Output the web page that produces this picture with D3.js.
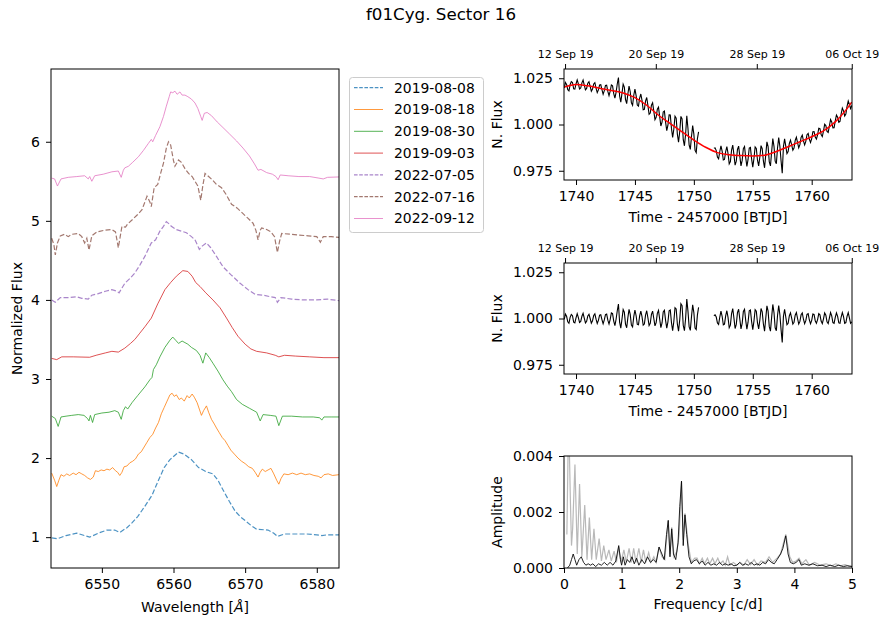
<!DOCTYPE html>
<html>
<head>
<meta charset="utf-8">
<script src="https://cdn.jsdelivr.net/npm/d3@7"></script>
<style>
body { margin: 0; background: #fff; }
svg text { font-family: "DejaVu Sans", sans-serif; fill: #000; }
</style>
</head>
<body>
<script>
// ---------- spectra (H-alpha profiles, offset per night) ----------
var dates = ["2019-08-08", "2019-08-18", "2019-08-30", "2019-09-03", "2022-07-05", "2022-07-16", "2022-09-12"];
var colors = ["#1f77b4", "#ff7f0e", "#2ca02c", "#d62728", "#9467bd", "#8c564b", "#e377c2"];
var dashed = [true, false, false, false, true, true, false];

var spec0808 = [[6543.0,0.99],[6543.8,0.98],[6545,1.02],[6546.5,1.05],[6548.3,1.0],[6549.5,1.05],[6550.7,1.09],[6551.8,1.09],[6552.5,1.06],[6553.5,1.12],[6554.2,1.18],[6555,1.26],[6556.0,1.39],[6557,1.53],[6557.9,1.72],[6558.7,1.88],[6559.5,1.98],[6560.7,2.075],[6561.5,2.05],[6562.5,1.98],[6563.5,1.88],[6564.5,1.83],[6565.5,1.80],[6566.2,1.72],[6566.9,1.60],[6567.8,1.45],[6568.6,1.33],[6569.3,1.26],[6570.0,1.21],[6570.8,1.15],[6571.6,1.10],[6573.2,1.09],[6574.0,1.05],[6574.5,1.01],[6575.5,1.04],[6577,1.04],[6578.6,1.04],[6580,1.03],[6580.7,1.02],[6581.5,1.03],[6583.1,1.03]];

var spec0818 = [[6543.0,1.81],[6543.4,1.72],[6543.7,1.64],[6544.0,1.72],[6544.3,1.79],[6544.7,1.77],[6545.1,1.80],[6545.5,1.78],[6546.0,1.81],[6546.4,1.79],[6546.8,1.82],[6547.2,1.80],[6547.6,1.78],[6548.0,1.75],[6548.4,1.73],[6548.8,1.76],[6549.1,1.84],[6549.5,1.83],[6549.9,1.85],[6550.3,1.84],[6550.7,1.86],[6551.1,1.85],[6551.5,1.88],[6551.9,1.84],[6552.2,1.82],[6552.5,1.78],[6552.8,1.82],[6553.1,1.89],[6553.5,1.90],[6553.9,1.94],[6554.3,1.96],[6554.7,1.99],[6555.1,2.05],[6555.5,2.08],[6555.9,2.14],[6556.3,2.20],[6556.7,2.26],[6557.1,2.30],[6557.5,2.38],[6557.9,2.45],[6558.3,2.56],[6558.7,2.64],[6559.1,2.72],[6559.5,2.80],[6559.8,2.82],[6560.1,2.78],[6560.4,2.80],[6560.8,2.74],[6561.1,2.76],[6561.5,2.72],[6561.9,2.79],[6562.2,2.76],[6562.6,2.81],[6562.9,2.77],[6563.3,2.70],[6563.6,2.62],[6563.9,2.54],[6564.2,2.60],[6564.6,2.66],[6564.9,2.58],[6565.3,2.49],[6565.7,2.43],[6566.0,2.38],[6566.4,2.32],[6566.8,2.26],[6567.2,2.22],[6567.6,2.16],[6568.0,2.10],[6568.5,2.05],[6569.0,2.00],[6569.5,1.96],[6570.0,1.93],[6570.5,1.89],[6571.0,1.87],[6571.4,1.82],[6571.8,1.76],[6572.1,1.82],[6572.4,1.86],[6572.8,1.83],[6573.2,1.85],[6573.6,1.87],[6574.0,1.80],[6574.4,1.72],[6574.7,1.67],[6575.0,1.74],[6575.4,1.80],[6576.0,1.79],[6576.6,1.81],[6577.2,1.79],[6577.8,1.81],[6578.4,1.79],[6579.0,1.80],[6579.6,1.78],[6580.2,1.77],[6580.6,1.75],[6581.0,1.79],[6581.6,1.80],[6582.2,1.78],[6583.1,1.79]];

var spec0830 = [[6543.0,2.53],[6543.5,2.50],[6543.9,2.40],[6544.3,2.52],[6545,2.53],[6545.8,2.54],[6546.7,2.55],[6547.5,2.54],[6548.0,2.50],[6548.2,2.47],[6548.4,2.54],[6548.7,2.45],[6549.0,2.55],[6550.0,2.57],[6551.0,2.58],[6551.8,2.60],[6552.3,2.58],[6552.7,2.49],[6553.0,2.60],[6553.3,2.65],[6553.6,2.62],[6554.2,2.70],[6555.0,2.79],[6556.0,2.90],[6556.7,2.99],[6557.0,3.02],[6557.2,3.12],[6557.6,3.18],[6558.1,3.28],[6558.8,3.40],[6559.5,3.49],[6559.9,3.53],[6560.3,3.49],[6560.7,3.45],[6561.2,3.48],[6561.6,3.46],[6562.0,3.44],[6562.5,3.40],[6563.2,3.36],[6563.7,3.30],[6564.1,3.20],[6564.5,3.33],[6565.0,3.27],[6565.5,3.20],[6566.2,3.10],[6566.9,2.99],[6567.5,2.91],[6568.1,2.84],[6568.8,2.74],[6569.6,2.68],[6570.6,2.63],[6571.6,2.58],[6572.1,2.47],[6572.5,2.55],[6573.5,2.54],[6574.3,2.53],[6574.7,2.41],[6575.2,2.53],[6576.5,2.53],[6578,2.52],[6579.5,2.52],[6580.4,2.51],[6580.7,2.48],[6581.0,2.52],[6582,2.52],[6583.1,2.52]];

var spec0903 = [[6543.0,3.26],[6543.7,3.245],[6544.4,3.28],[6546,3.28],[6548.3,3.275],[6549.2,3.30],[6550.5,3.33],[6551.4,3.35],[6552.3,3.34],[6553.2,3.39],[6554,3.45],[6554.6,3.50],[6555.3,3.58],[6556.0,3.66],[6556.9,3.77],[6557.8,3.95],[6558.8,4.13],[6559.6,4.22],[6560.4,4.30],[6561.3,4.37],[6562.0,4.36],[6562.6,4.30],[6563.1,4.22],[6563.7,4.17],[6564.5,4.09],[6565.5,4.00],[6566.5,3.90],[6567.4,3.77],[6568.2,3.65],[6569.0,3.54],[6570.0,3.44],[6570.8,3.38],[6571.6,3.35],[6573,3.33],[6574.2,3.30],[6574.7,3.28],[6575.5,3.30],[6577,3.29],[6579,3.28],[6581,3.27],[6583.1,3.27]];

var spec0705 = [[6543.0,4.00],[6543.5,3.97],[6544.2,4.03],[6545.5,4.03],[6546.5,4.04],[6547.2,4.02],[6548.1,4.01],[6548.6,4.06],[6549.5,4.08],[6550.5,4.11],[6551.4,4.13],[6552.1,4.11],[6552.4,4.09],[6552.8,4.15],[6553.2,4.21],[6553.9,4.27],[6554.6,4.34],[6555.3,4.44],[6556.0,4.55],[6556.9,4.72],[6557.5,4.76],[6558.1,4.87],[6558.6,4.93],[6559.0,4.99],[6559.4,4.96],[6559.7,4.93],[6560.4,4.89],[6561.1,4.87],[6561.8,4.85],[6562.5,4.80],[6563.0,4.76],[6563.6,4.64],[6564.0,4.68],[6564.6,4.72],[6565.2,4.66],[6566.0,4.55],[6566.9,4.42],[6568.0,4.32],[6569.3,4.21],[6570.4,4.13],[6571.4,4.07],[6572.5,4.06],[6573.5,4.04],[6574.2,4.03],[6574.5,3.97],[6575.0,4.03],[6576.5,4.01],[6578,4.00],[6580,4.00],[6581.5,4.01],[6583.1,3.99]];

var spec0716 = [[6543.0,4.78],[6543.3,4.70],[6543.5,4.57],[6543.8,4.72],[6544.2,4.81],[6544.8,4.83],[6545.3,4.80],[6545.8,4.83],[6546.7,4.84],[6547.2,4.80],[6547.6,4.72],[6547.9,4.78],[6548.2,4.63],[6548.6,4.81],[6549.3,4.86],[6550.3,4.88],[6551.4,4.89],[6551.9,4.86],[6552.3,4.66],[6552.8,4.93],[6553.3,4.92],[6553.6,4.96],[6554.2,5.01],[6555.0,5.08],[6555.6,5.14],[6556.3,5.31],[6556.7,5.24],[6556.9,5.18],[6557.3,5.42],[6557.8,5.46],[6558.2,5.60],[6558.6,5.73],[6559.0,5.92],[6559.3,6.00],[6559.6,5.96],[6560.0,5.76],[6560.2,5.69],[6560.7,5.77],[6561.1,5.74],[6561.6,5.66],[6562.1,5.60],[6562.6,5.56],[6563.0,5.50],[6563.4,5.44],[6563.8,5.26],[6564.1,5.45],[6564.4,5.60],[6564.9,5.56],[6565.4,5.52],[6566.0,5.46],[6566.7,5.42],[6567.3,5.34],[6568.1,5.21],[6568.9,5.16],[6569.6,5.10],[6570.3,5.04],[6571.1,4.97],[6571.5,4.88],[6571.8,4.76],[6572.1,4.88],[6572.3,4.91],[6573.0,4.89],[6573.6,4.86],[6574.1,4.80],[6574.5,4.60],[6574.8,4.74],[6575.1,4.84],[6576.5,4.83],[6577.5,4.82],[6578.8,4.81],[6580.0,4.80],[6580.5,4.73],[6580.9,4.80],[6582,4.80],[6583.1,4.79]];

var spec0912 = [[6543.0,5.54],[6543.4,5.53],[6543.8,5.44],[6544.3,5.53],[6545.3,5.55],[6546.5,5.56],[6547.6,5.57],[6548.1,5.53],[6548.3,5.56],[6548.6,5.50],[6549.0,5.57],[6550.2,5.59],[6551.4,5.62],[6552.3,5.63],[6552.7,5.55],[6553.0,5.64],[6553.2,5.67],[6553.7,5.69],[6554.3,5.74],[6555.1,5.81],[6555.8,5.89],[6556.5,5.98],[6556.9,6.03],[6557.1,6.00],[6557.5,6.08],[6558.1,6.19],[6558.6,6.32],[6559.0,6.45],[6559.4,6.57],[6559.6,6.63],[6559.9,6.62],[6560.2,6.64],[6560.5,6.60],[6560.9,6.63],[6561.2,6.59],[6561.6,6.59],[6562.0,6.57],[6562.5,6.54],[6563.0,6.49],[6563.4,6.42],[6563.8,6.32],[6564.0,6.27],[6564.3,6.36],[6564.7,6.37],[6565.3,6.33],[6566.1,6.25],[6566.9,6.18],[6567.8,6.10],[6568.8,6.01],[6569.7,5.92],[6570.6,5.82],[6571.3,5.72],[6571.8,5.64],[6572.2,5.65],[6573.0,5.61],[6573.8,5.59],[6574.3,5.56],[6574.6,5.52],[6574.9,5.58],[6576,5.57],[6577.5,5.56],[6579,5.56],[6580.3,5.54],[6580.9,5.53],[6581.5,5.55],[6583.1,5.555]];

var spectra = [spec0808, spec0818, spec0830, spec0903, spec0705, spec0716, spec0912];

// ---------- TESS light curve, sector 16 (flux offsets in ppt, 0.1 d cadence) ----------
var segStart = [1739.0, 1751.7];
var cadence = 0.1;

var fluxSeg1 = [19.7,22.7,21.7,18.8,18.2,21.5,23.2,22.7,19.3,19.1,
21.9,24.1,22.0,19.2,19.7,22.5,24.0,21.3,18.7,19.5,
22.3,23.1,20.6,18.0,19.2,21.9,22.6,19.6,17.2,18.7,
21.4,21.5,18.8,16.3,18.3,21.1,21.3,17.9,15.6,18.0,
21.4,20.9,16.7,14.2,17.4,21.9,25.4,15.4,12.1,16.8,
21.8,20.2,13.5,11.3,16.5,20.8,17.7,11.7,10.4,15.8,
19.1,15.6,10.5,9.9,14.3,16.5,13.0,8.0,8.2,12.6,
14.6,10.3,5.5,6.2,10.4,11.7,7.2,2.6,3.9,8.3,
9.4,4.2,-0.8,1.3,6.8,7.3,1.3,-3.3,-0.4,5.2,
5.1,-2.1,-7.0,-2.5,4.5,3.4,-5.2,-9.5,-3.9,4.4,
3.0,-8.2,-11.5,-5.3,4.7,-2.2,-11.2,-13.5,-6.5,-0.6,
-5.2,-14.0,-15.2,-7.8,-4.0];

var fluxSeg2 = [-12.8,-12.6,-14.1,-17.6,-18.5,-14.6,-11.5,-14.4,-19.2,-18.9,
-14.6,-11.9,-15.6,-21.3,-20.0,-13.8,-11.1,-16.3,-22.0,-19.8,
-13.5,-11.7,-17.2,-22.4,-19.4,-13.0,-11.9,-17.9,-22.7,-18.9,
-12.7,-12.4,-18.6,-23.0,-18.4,-12.1,-12.9,-19.3,-22.4,-17.6,
-11.4,-13.1,-19.7,-23.4,-16.4,-9.4,-12.0,-20.2,-22.4,-14.8,
-7.6,-11.8,-19.8,-21.2,-12.7,-7.1,-11.8,-19.6,-26.3,-12.0,
-7.8,-11.7,-15.7,-14.6,-10.3,-8.5,-11.0,-13.9,-12.7,-8.6,
-6.9,-9.8,-12.6,-10.9,-7.0,-5.8,-8.9,-11.0,-9.1,-5.5,
-4.8,-7.9,-9.7,-7.6,-3.9,-3.8,-6.8,-7.9,-5.6,-2.0,
-2.3,-5.4,-6.5,-3.6,0.1,-0.6,-3.7,-4.3,-0.8,2.7,
1.4,-1.8,-1.7,2.0,5.1,4.0,1.2,1.7,5.8,8.9,
7.4,4.6,5.7,9.8,12.7,10.8,8.6,10.3];

var detSeg1 = [-0.5,2.4,1.2,-1.8,-2.6,0.6,2.2,1.5,-2.0,-2.4,
0.3,2.6,0.5,-2.2,-1.6,1.2,2.8,0.2,-2.4,-1.5,
1.4,2.3,0.0,-2.5,-1.2,1.6,2.5,-0.4,-2.7,-1.0,
1.8,2.0,-0.6,-2.9,-0.8,2.1,2.4,-0.9,-3.0,-0.5,
3.0,2.6,-1.4,-3.8,-0.4,4.2,7.8,-2.0,-5.2,-0.3,
4.8,3.4,-3.0,-5.0,0.5,5.0,2.2,-3.6,-4.6,1.0,
4.6,1.5,-3.2,-3.4,1.4,4.0,1.0,-3.6,-3.0,1.8,
4.2,0.4,-3.8,-2.6,2.2,4.0,0.0,-4.0,-2.2,2.8,
4.4,-0.4,-4.9,-2.4,3.6,4.5,-1.0,-5.2,-1.8,4.2,
4.6,-2.2,-6.6,-1.6,5.8,5.2,-3.0,-6.8,-0.8,8.0,
7.0,-3.8,-6.6,0.0,10.5,4.0,-4.6,-6.4,1.0,7.4,
3.2,-5.2,-6.0,1.8,6.0];

var detSeg2 = [1.5,2.0,0.8,-2.4,-3.2,0.8,4.0,1.2,-3.4,-3.0,
1.4,4.2,0.6,-5.0,-3.6,2.6,5.4,0.2,-5.4,-3.2,
3.2,5.0,-0.4,-5.6,-2.6,3.8,5.0,-1.0,-5.8,-2.0,
4.2,4.6,-1.6,-6.0,-1.4,4.8,4.0,-2.4,-5.6,-0.8,
5.4,3.6,-3.0,-6.8,0.0,6.8,4.0,-4.4,-6.8,0.6,
7.6,3.2,-5.0,-6.6,1.6,7.0,2.0,-6.0,-13.0,1.0,
5.0,0.8,-3.4,-2.6,1.4,3.0,0.2,-3.0,-2.0,1.8,
3.2,0.0,-3.0,-1.6,2.0,3.0,-0.4,-2.8,-1.2,2.2,
2.6,-0.8,-2.8,-1.0,2.4,2.2,-1.2,-2.6,-0.6,2.6,
2.0,-1.4,-2.8,-0.2,3.0,1.8,-1.8,-2.8,0.2,3.2,
1.4,-2.2,-2.6,0.6,3.0,1.2,-2.4,-2.6,0.8,3.2,
1.0,-2.6,-2.2,1.2,3.2,0.4,-2.6,-1.8];

// smooth trend (red) in ppt
var trendTime = [1739,1740,1741,1742,1743,1744,1745,1746,1747,1748,1749,1750,1751,1752,1753,1754,1755,1756,1757,1758,1759,1760,1761,1762,1763,1763.4];
var trendFlux = [20.2,21.6,20.9,19.6,18.4,17.0,14.5,10.4,5.0,0.5,-4.0,-8.4,-12.3,-15.2,-16.3,-16.8,-17.0,-16.6,-14.6,-12.0,-9.3,-6.6,-3.4,1.4,8.6,12.1];

var calTickTime = [1739.07, 1746.77, 1755.34, 1763.4];
var calTickLabel = ["12 Sep 19", "20 Sep 19", "28 Sep 19", "06 Oct 19"];

// ---------- amplitude spectra (amplitude in 1e-4) ----------
var pgOriginal = [[0.05,12],[0.08,55],[0.11,25],[0.13,8],[0.15,14],[0.19,37],[0.23,5],[0.27,30],[0.31,4],[0.36,22.5],[0.40,3],[0.44,18],[0.48,3],[0.52,14],[0.56,3],[0.61,10.5],[0.65,2.5],[0.69,8],[0.73,3],[0.78,6.5],[0.82,2.5],[0.87,6],[0.91,2],[0.95,7.5],[0.99,2],[1.04,6.5],[1.08,2],[1.13,7],[1.17,2],[1.21,7],[1.25,2],[1.30,7],[1.34,2],[1.38,6.5],[1.42,2],[1.47,5.5],[1.51,2],[1.56,4],[1.60,2],[1.65,7.5],[1.70,4],[1.75,3],[1.81,17],[1.84,5],[1.87,14.5],[1.91,4],[1.96,6],[2.00,12],[2.04,31],[2.07,10],[2.10,19.5],[2.16,8],[2.21,2],[2.27,3.5],[2.31,3.5],[2.35,1.5],[2.40,3.5],[2.44,1.5],[2.49,3.5],[2.53,1.5],[2.58,3.5],[2.62,1.5],[2.67,3.5],[2.71,1.5],[2.76,2.5],[2.80,1.0],[2.84,4.0],[2.88,1.0],[2.94,2],[3.0,1],[3.06,2],[3.12,1],[3.18,3],[3.24,1.2],[3.3,3],[3.36,1],[3.42,2.5],[3.5,2],[3.56,4],[3.62,2],[3.7,3.5],[3.76,5],[3.85,12],[3.92,4],[3.97,2],[4.03,2.5],[4.08,3.5],[4.13,1.5],[4.2,3],[4.26,1],[4.35,2],[4.45,1],[4.55,1.5],[4.65,0.8],[4.72,1.5],[4.8,0.8],[4.88,1.2],[4.95,0.6],[5.0,0.8]];

var pgDetrended = [[0.06,0],[0.10,1],[0.13,3],[0.16,5],[0.19,3],[0.22,1],[0.26,3],[0.30,4],[0.34,2],[0.38,1],[0.42,1.5],[0.46,1],[0.50,1.5],[0.55,0.5],[0.60,1.5],[0.65,1],[0.70,2],[0.75,1],[0.80,2],[0.85,1],[0.90,2.5],[0.95,8],[0.98,3],[1.00,1],[1.03,4],[1.06,1],[1.10,3],[1.14,2],[1.18,4],[1.22,1.5],[1.26,3.5],[1.30,1],[1.35,3],[1.40,1.5],[1.45,4],[1.50,2],[1.55,3],[1.60,2],[1.65,7.5],[1.70,5],[1.74,3],[1.78,12],[1.81,17],[1.84,4],[1.87,14],[1.90,5],[1.94,3],[1.98,9],[2.01,22],[2.04,31],[2.07,8],[2.10,19],[2.13,12],[2.17,4],[2.21,1.5],[2.25,2.5],[2.30,3],[2.35,1.5],[2.40,2.5],[2.45,1],[2.50,2],[2.55,1],[2.60,1.5],[2.65,1],[2.70,2],[2.75,1],[2.80,1.5],[2.85,1],[2.90,1.5],[2.95,0.8],[3.00,1],[3.05,2],[3.10,1],[3.15,1.5],[3.20,1],[3.25,2],[3.30,1],[3.35,1.5],[3.40,1],[3.45,2],[3.50,1.5],[3.55,3],[3.60,2],[3.65,1.5],[3.70,3],[3.76,5],[3.80,7],[3.85,11.5],[3.89,5],[3.93,2],[3.98,1.5],[4.03,2],[4.08,3],[4.12,1],[4.18,1.5],[4.25,1],[4.32,1.5],[4.40,0.8],[4.48,1],[4.55,0.5],[4.62,1],[4.70,0.5],[4.77,1],[4.85,0.5],[4.92,0.8],[5.0,0.5]];


var w = 879;
var h = 620;
var font = "DejaVu Sans, sans-serif";

var svg = d3.select("body").append("svg").attr("width", w).attr("height", h);

svg.append("text")
  .attr("x", 441).attr("y", 20)
  .attr("text-anchor", "middle")
  .attr("font-size", 16.7)
  .text("f01Cyg. Sector 16");

function styleAxis(g, size) {
  g.attr("font-family", font).attr("font-size", size);
  g.select(".domain").remove();
  g.selectAll(".tick line").attr("stroke", "#000");
  g.selectAll(".tick text").attr("fill", "#000");
}

function frame(x0, y0, x1, y1) {
  svg.append("rect")
    .attr("x", x0).attr("y", y0)
    .attr("width", x1 - x0).attr("height", y1 - y0)
    .attr("fill", "none").attr("stroke", "#000").attr("stroke-width", 1);
}

function clip(id, x0, y0, x1, y1) {
  svg.append("clipPath").attr("id", id)
    .append("rect").attr("x", x0).attr("y", y0).attr("width", x1 - x0).attr("height", y1 - y0);
  return "url(#" + id + ")";
}

function ylabel(txt, x, y) {
  svg.append("text")
    .attr("transform", "translate(" + x + "," + y + ") rotate(-90)")
    .attr("text-anchor", "middle").attr("dy", "0.35em")
    .attr("font-size", 14)
    .text(txt);
}

// ================= left: spectra =================
var sx = d3.scaleLinear().domain([6542.9, 6583.1]).range([51, 339]);
var sy = d3.scaleLinear().domain([0.61, 6.92]).range([568, 69]);
var specLine = d3.line().x(function(d) { return sx(d[0]); }).y(function(d) { return sy(d[1]); });

var specG = svg.append("g").attr("clip-path", clip("clipSpec", 51, 69, 339, 568));
specG.selectAll("path")
  .data(spectra)
  .enter().append("path")
  .attr("d", specLine)
  .attr("fill", "none")
  .attr("stroke", function(d, i) { return colors[i]; })
  .attr("stroke-opacity", 0.8)
  .attr("stroke-width", function(d, i) { return dashed[i] ? 1.2 : 1; })
  .attr("stroke-dasharray", function(d, i) { return dashed[i] ? "5,2.2" : null; });

svg.append("g").attr("transform", "translate(0,568)")
  .call(d3.axisBottom(sx).tickValues([6550, 6560, 6570, 6580]).tickFormat(d3.format("d")).tickSize(5).tickPadding(6.5))
  .call(styleAxis, 14);
svg.append("g").attr("transform", "translate(51,0)")
  .call(d3.axisLeft(sy).tickValues([1, 2, 3, 4, 5, 6]).tickFormat(d3.format("d")).tickSize(5).tickPadding(6))
  .call(styleAxis, 14);
frame(51, 69, 339, 568);

var wl = svg.append("text").attr("x", 195).attr("y", 612).attr("text-anchor", "middle").attr("font-size", 14);
wl.append("tspan").text("Wavelength [");
wl.append("tspan").attr("font-style", "italic").text("\u00C5");
wl.append("tspan").text("]");
ylabel("Normalized Flux", 17, 318.5);

// legend
svg.append("rect")
  .attr("x", 349.5).attr("y", 77.5).attr("width", 134).attr("height", 155).attr("rx", 3)
  .attr("fill", "#fff").attr("stroke", "#ccc");
var leg = svg.selectAll(".leg")
  .data(dates)
  .enter().append("g")
  .attr("class", "leg")
  .attr("transform", function(d, i) { return "translate(0," + (87.7 + i * 21.8) + ")"; });
leg.append("line")
  .attr("x1", 354).attr("x2", 383)
  .attr("stroke", function(d, i) { return colors[i]; })
  .attr("stroke-opacity", 0.8)
  .attr("stroke-width", function(d, i) { return dashed[i] ? 1.2 : 1; })
  .attr("stroke-dasharray", function(d, i) { return dashed[i] ? "3.6,1.6" : null; });
leg.append("text")
  .attr("x", 394).attr("dy", "0.35em")
  .attr("font-size", 13.9)
  .text(function(d) { return d; });

// ================= right: light curves =================
var tx = d3.scaleLinear().domain([1738.98, 1763.42]).range([564, 852]);

function segPoints(vals, s) {
  return vals.map(function(v, i) { return [segStart[s] + i * cadence, 1 + v / 1000]; });
}

function lcPanel(id, top, bottom, seg1, seg2, withTrend) {
  var y = d3.scaleLinear().domain([0.97, 1.03]).range([bottom, top]);
  var line = d3.line().x(function(d) { return tx(d[0]); }).y(function(d) { return y(d[1]); });
  var g = svg.append("g").attr("clip-path", clip(id, 564, top, 852, bottom));

  g.selectAll(".seg")
    .data([segPoints(seg1, 0), segPoints(seg2, 1)])
    .enter().append("path")
    .attr("class", "seg")
    .attr("d", line)
    .attr("fill", "none").attr("stroke", "#000").attr("stroke-width", 1.1);

  if (withTrend) {
    var tr = trendTime.map(function(t, i) { return [t, 1 + trendFlux[i] / 1000]; });
    g.append("path")
      .attr("d", line.curve(d3.curveMonotoneX)(tr))
      .attr("fill", "none").attr("stroke", "red").attr("stroke-width", 1.5);
  }

  svg.append("g").attr("transform", "translate(0," + bottom + ")")
    .call(d3.axisBottom(tx).tickValues([1740, 1745, 1750, 1755, 1760]).tickFormat(d3.format("d")).tickSize(5).tickPadding(6.5))
    .call(styleAxis, 14);
  svg.append("g").attr("transform", "translate(564,0)")
    .call(d3.axisLeft(y).tickValues([0.975, 1.0, 1.025]).tickFormat(d3.format(".3f")).tickSize(5).tickPadding(6))
    .call(styleAxis, 14);
  svg.append("g").attr("transform", "translate(0," + top + ")")
    .call(d3.axisTop(tx).tickValues(calTickTime).tickFormat(function(d, i) { return calTickLabel[i]; }).tickSize(5).tickPadding(6))
    .call(styleAxis, 11);
  frame(564, top, 852, bottom);

  svg.append("text").attr("x", 708).attr("y", bottom + 41.5)
    .attr("text-anchor", "middle").attr("font-size", 14)
    .text("Time - 2457000 [BTJD]");
  ylabel("N. Flux", 497, (top + bottom) / 2);
}

lcPanel("clipLc1", 69, 180, fluxSeg1, fluxSeg2, true);
lcPanel("clipLc2", 263, 374, detSeg1, detSeg2, false);

// ================= right bottom: amplitude spectrum =================
var fx = d3.scaleLinear().domain([0, 5]).range([564, 852]);
var ay = d3.scaleLinear().domain([0, 0.004]).range([568, 456]);
var pgLine = d3.line().x(function(d) { return fx(d[0]); }).y(function(d) { return ay(d[1] / 10000); });

var pg = svg.append("g").attr("clip-path", clip("clipPg", 564, 456, 852, 568));
pg.append("path").attr("d", pgLine(pgOriginal))
  .attr("fill", "none").attr("stroke", "#888").attr("stroke-opacity", 0.6).attr("stroke-width", 1.2);
pg.append("path").attr("d", pgLine(pgDetrended))
  .attr("fill", "none").attr("stroke", "#000").attr("stroke-opacity", 0.85).attr("stroke-width", 1);

svg.append("g").attr("transform", "translate(0,568)")
  .call(d3.axisBottom(fx).tickValues([0, 1, 2, 3, 4, 5]).tickFormat(d3.format("d")).tickSize(5).tickPadding(6.5))
  .call(styleAxis, 14);
svg.append("g").attr("transform", "translate(564,0)")
  .call(d3.axisLeft(ay).tickValues([0, 0.002, 0.004]).tickFormat(d3.format(".3f")).tickSize(5).tickPadding(6))
  .call(styleAxis, 14);
frame(564, 456, 852, 568);

svg.append("text").attr("x", 708).attr("y", 609)
  .attr("text-anchor", "middle").attr("font-size", 14)
  .text("Frequency [c/d]");
ylabel("Amplitude", 497, 512);
</script>
</body>
</html>
